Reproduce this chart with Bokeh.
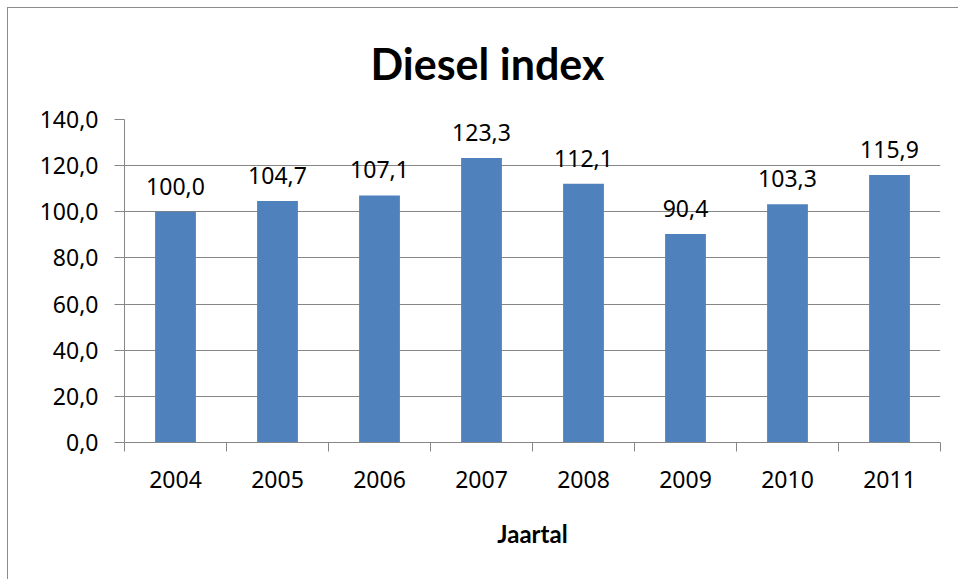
from bokeh.plotting import figure
from bokeh.models import ColumnDataSource, FixedTicker, Range1d
from bokeh.embed import file_html
from bokeh.resources import INLINE
from bokeh.core.properties import value

# Diesel price index per year (2004 = 100)
years = ["2004", "2005", "2006", "2007", "2008", "2009", "2010", "2011"]
index_values = [100.0, 104.7, 107.1, 123.3, 112.1, 90.4, 103.3, 115.9]
y_ticks = [0, 20, 40, 60, 80, 100, 120, 140]


def nl(v):
    return f"{v:.1f}".replace(".", ",")


centers = [i + 0.5 for i in range(len(years))]
src = ColumnDataSource(dict(
    x=centers,
    top=index_values,
    label=[nl(v) for v in index_values],
))

GRID = "#868686"
BAR = "#4F81BD"
TICK_FONT = "Noto Sans"

p = figure(
    width=951, height=572,
    x_range=Range1d(0, len(years)), y_range=Range1d(0, 140),
    output_backend="svg", toolbar_location=None,
    min_border_left=116, min_border_right=19,
    min_border_top=111, min_border_bottom=138,
    outline_line_color=None,
    title="Diesel index",
)
p.styles = {
    "margin-left": "7px", "margin-top": "7px",
    "border-left": "1px solid #8c8c8c", "border-top": "1px solid #8c8c8c",
}

p.title.align = "left"
p.title.vertical_align = "top"
p.title.offset = 246
p.title.standoff = 58
p.title.text_line_height = 0.8
p.title.text_font = "Lato"
p.title.text_font_style = "bold"
p.title.text_font_size = "43px"
p.title.text_color = "#000000"

p.vbar(x="x", top="top", width=0.4, source=src, color=BAR, line_color=None)
p.text(x="x", y="top", text="label", source=src,
       text_align="center", text_baseline="bottom", y_offset=-17,
       text_font=value(TICK_FONT), text_font_size="23px", text_color="#000000")

# y axis: gridlines every 20 with Dutch decimal comma
p.yaxis.ticker = FixedTicker(ticks=y_ticks)
p.yaxis.major_label_overrides = {t: nl(t) for t in y_ticks}
p.yaxis.minor_tick_line_color = None
p.yaxis.major_tick_in = 0
p.yaxis.major_tick_out = 10
p.yaxis.major_tick_line_color = GRID
p.yaxis.axis_line_color = GRID
p.yaxis.major_label_standoff = 16
p.ygrid.grid_line_color = GRID
p.ygrid.grid_line_width = 1

# x axis: year labels centred, tick marks between categories
p.xaxis.ticker = FixedTicker(ticks=centers, minor_ticks=list(range(len(years) + 1)))
p.xaxis.major_label_overrides = {c: y for c, y in zip(centers, years)}
p.xaxis.major_tick_in = 0
p.xaxis.major_tick_out = 0
p.xaxis.minor_tick_in = 0
p.xaxis.minor_tick_out = 9
p.xaxis.minor_tick_line_color = GRID
p.xaxis.axis_line_color = GRID
p.xaxis.major_label_standoff = 19
p.xgrid.grid_line_color = None

p.xaxis.axis_label = "Jaartal"
p.xaxis.axis_label_standoff = 28
p.xaxis.axis_label_text_font = "Lato"
p.xaxis.axis_label_text_font_style = "bold"
p.xaxis.axis_label_text_font_size = "24px"
p.xaxis.axis_label_text_color = "#000000"

for ax in (p.xaxis[0], p.yaxis[0]):
    ax.major_label_text_font = TICK_FONT
    ax.major_label_text_font_size = "23px"
    ax.major_label_text_color = "#000000"

open("out.html", "w").write(file_html(p, INLINE))
